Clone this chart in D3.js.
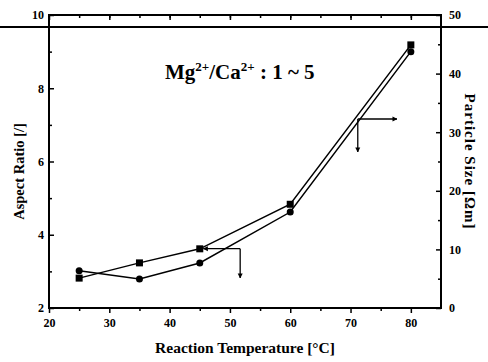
<!DOCTYPE html>
<html>
<head>
<meta charset="utf-8">
<script src="https://cdn.jsdelivr.net/npm/d3@7"></script>
<style>
  body { margin: 0; background: #fff; }
  svg text { font-family: "Liberation Serif", "DejaVu Serif", serif; font-weight: bold; fill: #000; }
</style>
</head>
<body>
<div id="chart"></div>
<script>
// temperatures [°C]
const temperatures = [25, 35, 45, 60, 80];
// aspect ratio (left axis, circles)
const aspectRatio = [3.02, 2.79, 3.23, 4.62, 9.0];
// particle size (right axis, squares)
const particleSize = [5.1, 7.7, 10.1, 17.7, 44.9];

const xTicks = [20, 30, 40, 50, 60, 70, 80];
const yLeftTicks = [2, 4, 6, 8, 10];
const yRightTicks = [0, 10, 20, 30, 40, 50];

// arrow annotations: corner (temperature, aspect ratio), horizontal end, vertical end
const arrowNotes = [
  { t: 51.7, a: 3.62, tEnd: 45.6, aEnd: 2.82 },
  { t: 71.2, a: 7.16, tEnd: 77.7, aEnd: 6.26 }
];

const W = 488, H = 362;
const margin = { top: 15, right: 47, bottom: 54, left: 49 };
const width = W - margin.left - margin.right;
const height = H - margin.top - margin.bottom;

const svg = d3.select('#chart').append('svg')
  .attr('width', W)
  .attr('height', H);

const defs = svg.append('defs');
defs.append('marker')
  .attr('id', 'head')
  .attr('viewBox', '0 0 10 10')
  .attr('refX', 9).attr('refY', 5)
  .attr('markerWidth', 5).attr('markerHeight', 6)
  .attr('markerUnits', 'userSpaceOnUse')
  .attr('orient', 'auto')
  .append('path')
  .attr('d', 'M0,0L10,5L0,10Z')
  .attr('fill', '#000');

const x = d3.scaleLinear().domain([20, 85]).range([0, width]);
const yL = d3.scaleLinear().domain([2, 10]).range([height, 0]);
const yR = d3.scaleLinear().domain([0, 50]).range([height, 0]);

const g = svg.append('g')
  .attr('transform', `translate(${margin.left},${margin.top})`);

function styleAxis(sel) {
  sel.select('.domain').remove();
  sel.selectAll('line').attr('stroke', '#000').attr('stroke-width', 1.5);
  sel.selectAll('text').attr('font-size', 12);
}

// minor ticks
g.append('g')
  .attr('transform', `translate(0,${height})`)
  .call(d3.axisBottom(x).tickValues(d3.range(25, 85, 10)).tickSize(3).tickFormat(''))
  .call(styleAxis);
g.append('g')
  .call(d3.axisBottom(x).tickValues(d3.range(25, 85, 5)).tickSize(3).tickFormat(''))
  .call(styleAxis);
g.append('g')
  .call(d3.axisRight(yL).tickValues([3, 5, 7, 9]).tickSize(3).tickFormat(''))
  .call(styleAxis);
g.append('g')
  .attr('transform', `translate(${width},0)`)
  .call(d3.axisLeft(yR).tickValues([5, 15, 25, 35, 45]).tickSize(3).tickFormat(''))
  .call(styleAxis);

// major ticks
g.append('g')
  .attr('transform', `translate(0,${height})`)
  .call(d3.axisBottom(x).tickValues(xTicks).tickSize(5).tickPadding(5).tickFormat(d3.format('d')))
  .call(styleAxis);
g.append('g')
  .call(d3.axisBottom(x).tickValues(xTicks).tickSize(5).tickFormat(''))
  .call(styleAxis);

const left = g.append('g')
  .call(d3.axisRight(yL).tickValues(yLeftTicks).tickSize(5).tickFormat(d3.format('d')))
  .call(styleAxis);
left.selectAll('text').attr('text-anchor', 'end').attr('x', -5);

const right = g.append('g')
  .attr('transform', `translate(${width},0)`)
  .call(d3.axisLeft(yR).tickValues(yRightTicks).tickSize(5).tickFormat(d3.format('d')))
  .call(styleAxis);
right.selectAll('text').attr('text-anchor', 'start').attr('x', 8);

// frame
g.append('rect')
  .attr('width', width).attr('height', height)
  .attr('fill', 'none').attr('stroke', '#000').attr('stroke-width', 2);

// scan line across the top
svg.append('line')
  .attr('x1', 0).attr('x2', W)
  .attr('y1', 27).attr('y2', 27)
  .attr('stroke', '#000').attr('stroke-width', 2);

// series
const circleData = temperatures.map((t, i) => ({ t, v: aspectRatio[i] }));
const squareData = temperatures.map((t, i) => ({ t, v: particleSize[i] }));

g.append('path')
  .datum(circleData)
  .attr('fill', 'none').attr('stroke', '#000').attr('stroke-width', 1.5)
  .attr('d', d3.line().x(d => x(d.t)).y(d => yL(d.v)));
g.append('path')
  .datum(squareData)
  .attr('fill', 'none').attr('stroke', '#000').attr('stroke-width', 1.5)
  .attr('d', d3.line().x(d => x(d.t)).y(d => yR(d.v)));

g.selectAll('.dot')
  .data(circleData)
  .enter().append('circle')
  .attr('class', 'dot')
  .attr('cx', d => x(d.t)).attr('cy', d => yL(d.v))
  .attr('r', 3.5).attr('fill', '#000');

g.selectAll('.sq')
  .data(squareData)
  .enter().append('rect')
  .attr('class', 'sq')
  .attr('x', d => x(d.t) - 3.5).attr('y', d => yR(d.v) - 3.5)
  .attr('width', 7).attr('height', 7).attr('fill', '#000');

// arrows
arrowNotes.forEach(n => {
  g.append('line')
    .attr('x1', x(n.t)).attr('y1', yL(n.a))
    .attr('x2', x(n.tEnd)).attr('y2', yL(n.a))
    .attr('stroke', '#000').attr('stroke-width', 1.3)
    .attr('marker-end', 'url(#head)');
  g.append('line')
    .attr('x1', x(n.t)).attr('y1', yL(n.a))
    .attr('x2', x(n.t)).attr('y2', yL(n.aEnd))
    .attr('stroke', '#000').attr('stroke-width', 1.3)
    .attr('marker-end', 'url(#head)');
});

// inset label
const note = svg.append('text')
  .attr('x', 165).attr('y', 79)
  .attr('font-size', 21);
note.append('tspan').text('Mg');
note.append('tspan').attr('font-size', 13).attr('dy', -8).text('2+');
note.append('tspan').attr('dy', 8).text('/Ca');
note.append('tspan').attr('font-size', 13).attr('dy', -8).text('2+');
note.append('tspan').attr('dy', 8).text(' : 1 ~ 5');

// axis titles
svg.append('text')
  .attr('x', margin.left + width / 2).attr('y', 353)
  .attr('text-anchor', 'middle').attr('font-size', 15.5)
  .text('Reaction Temperature [°C]');

svg.append('text')
  .attr('transform', `translate(24,${margin.top + height / 2 + 10}) rotate(-90)`)
  .attr('text-anchor', 'middle').attr('font-size', 14.5)
  .text('Aspect Ratio [/]');

svg.append('text')
  .attr('transform', `translate(465,${margin.top + height / 2}) rotate(90)`)
  .attr('text-anchor', 'middle').attr('font-size', 15)
  .attr('letter-spacing', 1)
  .text('Particle Size [Ωm]');
</script>
</body>
</html>
